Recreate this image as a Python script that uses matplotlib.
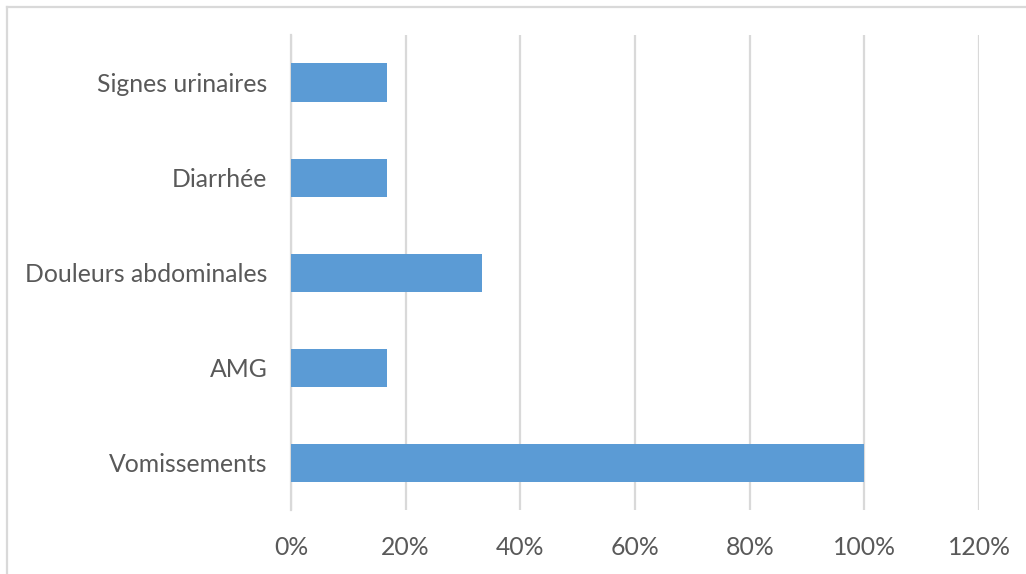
import matplotlib
matplotlib.use("Agg")
import matplotlib.pyplot as plt
from matplotlib.lines import Line2D
from matplotlib.ticker import FuncFormatter

categories = ["Vomissements", "AMG", "Douleurs abdominales", "Diarrhée", "Signes urinaires"]
values = [100.0, 16.67, 33.33, 16.67, 16.67]
x_ticks = [0, 20, 40, 60, 80, 100, 120]

plt.rcParams["font.family"] = ["Lato", "DejaVu Sans"]

W, H = 1026, 574
fig = plt.figure(figsize=(W / 100, H / 100), dpi=100)
ax = fig.add_axes([291 / W, 1 - 510 / H, (979 - 291) / W, (510 - 35) / H])

pos = list(range(len(categories)))
ax.barh(pos, values, height=0.4, color="#5b9bd5", zorder=3)

ax.set_xlim(0, 120)
ax.set_ylim(-0.5, len(categories) - 0.5)
ax.set_xticks(x_ticks)
ax.xaxis.set_major_formatter(FuncFormatter(lambda v, p: f"{v:.0f}%"))
ax.set_yticks(pos)
ax.set_yticklabels(categories)

ax.grid(axis="x", color="#d9d9d9", linewidth=1.6, zorder=0)
for s in ["top", "right", "bottom"]:
    ax.spines[s].set_visible(False)
ax.spines["left"].set_color("#d9d9d9")
ax.spines["left"].set_linewidth(1.6)
ax.tick_params(axis="both", length=0, labelsize=17.8, colors="#595959")
ax.tick_params(axis="x", pad=19)
ax.tick_params(axis="y", pad=17)

# outer chart frame (top and left edges)
fig.add_artist(Line2D([7 / W, 1.0], [1 - 7 / H, 1 - 7 / H], color="#d9d9d9", linewidth=1.6))
fig.add_artist(Line2D([7 / W, 7 / W], [0, 1 - 7 / H], color="#d9d9d9", linewidth=1.6))

fig.savefig("out.png", dpi=100, facecolor="white")
